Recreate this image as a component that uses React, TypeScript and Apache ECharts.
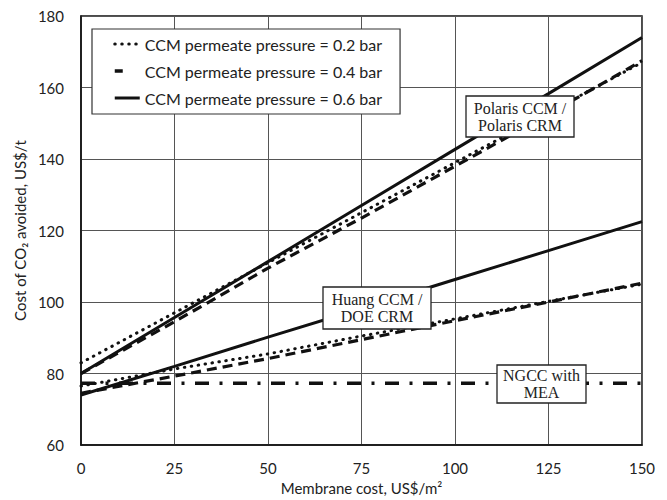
import React, { useEffect, useRef } from "react";
import * as echarts from "echarts";

const xValues = [0, 25, 50, 75, 100, 125, 150];
const polaris02 = [83, 97, 111, 125, 139, 153, 167];
const polaris04 = [80, 94.5, 109.5, 123.5, 138, 152.5, 167.5];
const polaris06 = [80, 95.7, 111.3, 127, 142.7, 158.3, 174];
const huang02 = [76.5, 81.3, 85.5, 90.5, 95.3, 100.2, 105];
const huang04 = [74.5, 79.3, 84.2, 89.5, 94.8, 100, 105.3];
const huang06 = [74, 82, 90.2, 98.2, 106.3, 114.4, 122.5];
const ngccMea = [77.3, 77.3, 77.3, 77.3, 77.3, 77.3, 77.3];

const legendNames = [
  "CCM permeate pressure = 0.2 bar",
  "CCM permeate pressure = 0.4 bar",
  "CCM permeate pressure = 0.6 bar",
];
const annotations = [
  { lines: ["Polaris CCM /", "Polaris CRM"], x: 466, y: 96, w: 108, h: 41 },
  { lines: ["Huang CCM /", "DOE CRM"], x: 323, y: 287, w: 108, h: 42 },
  { lines: ["NGCC with", "MEA"], x: 497, y: 365, w: 89, h: 38 },
];

const SANS = "Lato, 'Open Sans', sans-serif";
const SERIF = "'Liberation Serif', 'DejaVu Serif', serif";

const pairs = (ys: number[]) => xValues.map((x, i) => [x, ys[i]]);

const dotted = { color: "#111", width: 3, type: [0.5, 6.5], cap: "round" as const };
const dashed = { color: "#111", width: 3.2, type: [10, 6], cap: "butt" as const };
const solid = { color: "#111", width: 3, type: "solid" as const };

export default function App() {
  const ref = useRef<HTMLDivElement>(null);
  useEffect(() => {
    if (!ref.current) return;
    const chart = echarts.init(ref.current, undefined, { renderer: "svg" });
    const mk = (name: string, ys: number[], ls: any) => ({
      type: "line",
      name,
      data: pairs(ys),
      showSymbol: false,
      symbol: "none",
      lineStyle: ls,
      itemStyle: { color: "#111" },
      silent: true,
    });
    const hidden = { opacity: 0, borderWidth: 0 };
    chart.setOption({
      animation: false,
      backgroundColor: "#fff",
      grid: {
        left: 81,
        right: 25,
        top: 16,
        bottom: 54,
        show: true,
        borderColor: "#111",
        borderWidth: 1.5,
        backgroundColor: "transparent",
      },
      legend: {
        orient: "vertical",
        left: 92,
        top: 29,
        padding: [7, 18, 8, 21],
        backgroundColor: "#fff",
        borderColor: "#333",
        borderWidth: 1.2,
        itemWidth: 25,
        itemHeight: 14,
        itemGap: 11,
        itemTextGap: 1,
        itemStyle: hidden,
        textStyle: { fontFamily: SANS, fontSize: 16, color: "#222" },
        data: [
          { name: legendNames[0], itemStyle: hidden, lineStyle: { ...dotted } },
          { name: legendNames[1], itemStyle: hidden, lineStyle: { ...dashed, type: [8, 40], width: 3.5 } },
          { name: legendNames[2], itemStyle: hidden, lineStyle: { ...solid } },
        ],
      },
      xAxis: {
        type: "value",
        min: 0,
        max: 150,
        interval: 25,
        name: "Membrane cost, US$/m²",
        nameLocation: "middle",
        nameGap: 34,
        nameTextStyle: { fontFamily: SANS, fontSize: 15, color: "#222" },
        axisLine: { show: true, onZero: false, lineStyle: { color: "#111", width: 1.5 } },
        axisTick: { show: false },
        axisLabel: { margin: 15, fontFamily: SANS, fontSize: 15, color: "#222" },
        splitLine: { show: true, lineStyle: { color: "#555", width: 1 } },
      },
      yAxis: {
        type: "value",
        min: 60,
        max: 180,
        interval: 20,
        name: "Cost of CO₂ avoided, US$/t",
        nameLocation: "middle",
        nameGap: 48,
        nameTextStyle: { fontFamily: SANS, fontSize: 15, color: "#222" },
        axisLine: { show: true, lineStyle: { color: "#111", width: 1.5 } },
        axisTick: { show: false },
        axisLabel: { margin: 17, fontFamily: SANS, fontSize: 15, color: "#222" },
        splitLine: { show: true, lineStyle: { color: "#555", width: 1 } },
      },
      series: [
        mk(legendNames[0], polaris02, dotted),
        mk(legendNames[1], polaris04, dashed),
        mk(legendNames[2], polaris06, solid),
        mk(legendNames[0], huang02, dotted),
        mk(legendNames[1], huang04, dashed),
        mk(legendNames[2], huang06, solid),
        mk("NGCC with MEA", ngccMea, {
          color: "#111",
          width: 3.5,
          type: [14, 10.5, 3, 10.5],
          cap: "butt",
        }),
      ],
      graphic: annotations.map((a) => ({
        type: "group",
        z: 100,
        children: [
          {
            type: "rect",
            shape: { x: a.x, y: a.y, width: a.w, height: a.h },
            style: { fill: "#fff", stroke: "#222", lineWidth: 1.3 },
            z: 100,
          },
          {
            type: "text",
            x: a.x + a.w / 2,
            y: a.y + a.h / 2,
            z: 101,
            style: {
              text: a.lines.join("\n"),
              fontFamily: SERIF,
              fontSize: 16,
              lineHeight: 17,
              fill: "#222",
              align: "center",
              verticalAlign: "middle",
            },
          },
        ],
      })),
    });
    return () => chart.dispose();
  }, []);
  return (
    <div
      ref={ref}
      style={{ position: "absolute", left: 0, top: 0, width: 667, height: 500 }}
    />
  );
}
